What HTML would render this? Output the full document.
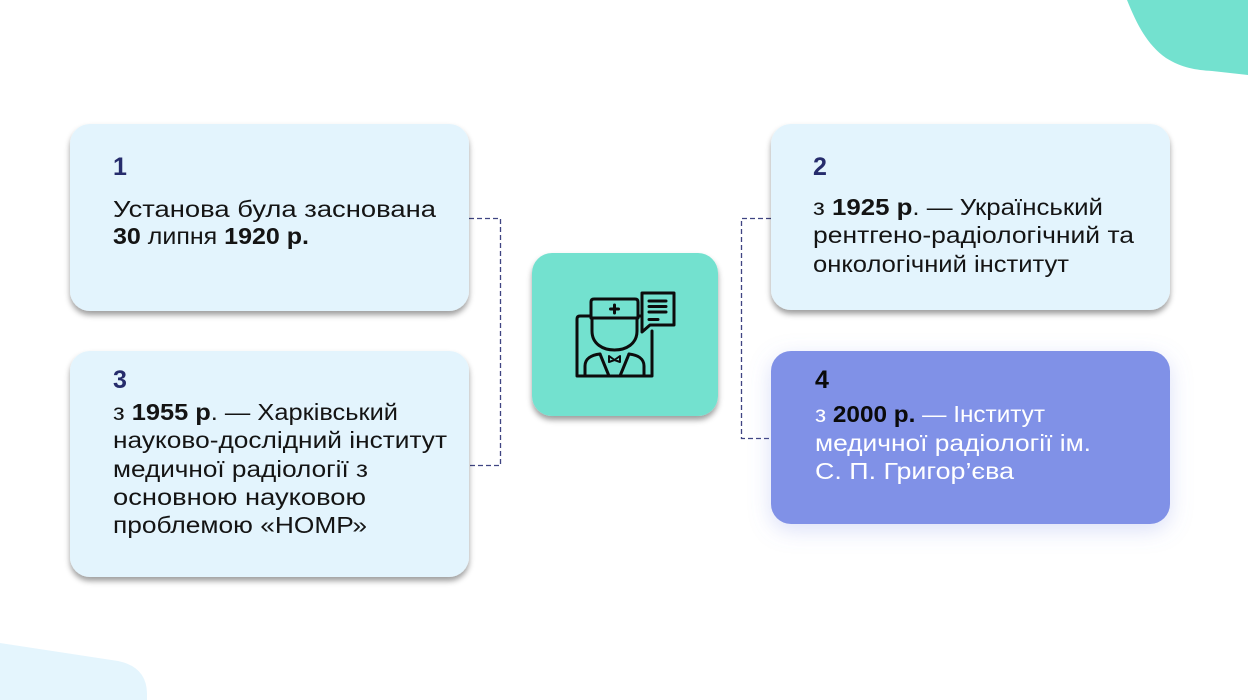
<!DOCTYPE html>
<html>
<head>
<meta charset="utf-8">
<style>
  html, body { margin:0; padding:0; background:#ffffff; }
  body { width:1248px; height:700px; overflow:hidden; }
  svg { display:block; }
  .t { font-family:"Liberation Sans","DejaVu Sans",sans-serif; font-size:23px; fill:#141414; }
  .h { font-family:"Liberation Sans","DejaVu Sans",sans-serif; font-size:25px; font-weight:bold; fill:#262c6c; }
  .b { font-weight:bold; }
  .w { fill:#ffffff; }
  .k { fill:#0a0a0a; }
</style>
</head>
<body>
<svg width="1248" height="700" viewBox="0 0 1248 700" xmlns="http://www.w3.org/2000/svg">
  <defs>
    <filter id="sh" x="-10%" y="-10%" width="120%" height="130%">
      <feDropShadow dx="0" dy="4" stdDeviation="3" flood-color="#000" flood-opacity="0.38"/>
    </filter>
    <filter id="glow" x="-20%" y="-30%" width="140%" height="170%">
      <feDropShadow dx="0" dy="6" stdDeviation="11" flood-color="#7d8ee6" flood-opacity="0.28"/>
    </filter>
  </defs>

  <!-- decorative blobs -->
  <path d="M1127,0 C1136,22 1146,44 1166,58 C1182,68 1196,70 1212,71 L1248,75 L1248,0 Z" fill="#73E1CF"/>
  <path d="M0,643 L118,661 Q147,667 147,694 L147,700 L0,700 Z" fill="#E4F5FD"/>

  <!-- connectors -->
  <path d="M469,218.5 H500.5 V465.5 H469" fill="none" stroke="#3f4482" stroke-width="1.3" stroke-dasharray="5 3"/>
  <path d="M771,218.5 H741.5 V438.5 H771" fill="none" stroke="#3f4482" stroke-width="1.3" stroke-dasharray="5 3"/>

  <!-- boxes -->
  <rect x="70" y="124" width="399" height="187" rx="20" fill="#E3F4FD" filter="url(#sh)"/>
  <rect x="771" y="124" width="399" height="186" rx="20" fill="#E3F4FD" filter="url(#sh)"/>
  <rect x="70" y="351" width="399" height="226" rx="20" fill="#E3F4FD" filter="url(#sh)"/>
  <rect x="771" y="351" width="399" height="173" rx="20" fill="#8091E7" filter="url(#glow)"/>
  <rect x="532" y="253" width="186" height="163" rx="20" fill="#73E1CF" filter="url(#sh)"/>

  <!-- icon -->
  <g fill="none" stroke="#0c0c0c" stroke-width="3" stroke-linejoin="round" stroke-linecap="round">
    <path d="M591,316 H580 Q577,316 577,319 V376 H652 V331"/>
    <path d="M638,316 H642"/>
    <path d="M591,318 V302 Q591,299 594,299 H635 Q638,299 638,302 V318 Z"/>
    <path d="M614.5,305 V313 M610.5,309 H618.5"/>
    <path d="M592,318 V331 C592,344 603,350 614.5,350 C626,350 637,344 637,331 V318"/>
    <path d="M585,376 V366 C585,359 591,355 600,354 M644,376 V366 C644,359 638,355 629,354"/>
    <path d="M600,354 L609,376 M629,354 L620,376"/>
    <path d="M609,356 L614.5,360 L620,356 L620,362 L614.5,360 L609,362 Z" stroke-width="2"/>
    <path d="M650,325 H674 V293 H642 V332 Z"/>
    <path d="M649,301 H666 M649,306.5 H666 M649,312 H666 M649,319.5 H658"/>
  </g>

  <!-- box 1 -->
  <text class="h" x="113" y="175">1</text>
  <text class="t" x="113" y="217" textLength="323" lengthAdjust="spacingAndGlyphs">Установа була заснована</text>
  <text class="t" x="113" y="244" textLength="196" lengthAdjust="spacingAndGlyphs"><tspan class="b">30</tspan> липня <tspan class="b">1920 р.</tspan></text>

  <!-- box 2 -->
  <text class="h" x="813" y="175">2</text>
  <text class="t" x="813" y="215" textLength="290" lengthAdjust="spacingAndGlyphs">з <tspan class="b">1925 р</tspan>. — Український</text>
  <text class="t" x="813" y="243" textLength="321" lengthAdjust="spacingAndGlyphs">рентгено-радіологічний та</text>
  <text class="t" x="813" y="272" textLength="256" lengthAdjust="spacingAndGlyphs">онкологічний інститут</text>

  <!-- box 3 -->
  <text class="h" x="113" y="388">3</text>
  <text class="t" x="113" y="420" textLength="285" lengthAdjust="spacingAndGlyphs">з <tspan class="b">1955 р</tspan>. — Харківський</text>
  <text class="t" x="113" y="448" textLength="334" lengthAdjust="spacingAndGlyphs">науково-дослідний інститут</text>
  <text class="t" x="113" y="477" textLength="255" lengthAdjust="spacingAndGlyphs">медичної радіології з</text>
  <text class="t" x="113" y="505" textLength="253" lengthAdjust="spacingAndGlyphs">основною науковою</text>
  <text class="t" x="113" y="533" textLength="254" lengthAdjust="spacingAndGlyphs">проблемою «НОМР»</text>

  <!-- box 4 -->
  <text class="h k" x="815" y="388">4</text>
  <text class="t w" x="815" y="422" textLength="230" lengthAdjust="spacingAndGlyphs">з <tspan class="b k">2000 р.</tspan> — Інститут</text>
  <text class="t w" x="815" y="451" textLength="276" lengthAdjust="spacingAndGlyphs">медичної радіології ім.</text>
  <text class="t w" x="815" y="479" textLength="199" lengthAdjust="spacingAndGlyphs">С. П. Григор’єва</text>
</svg>
</body>
</html>
